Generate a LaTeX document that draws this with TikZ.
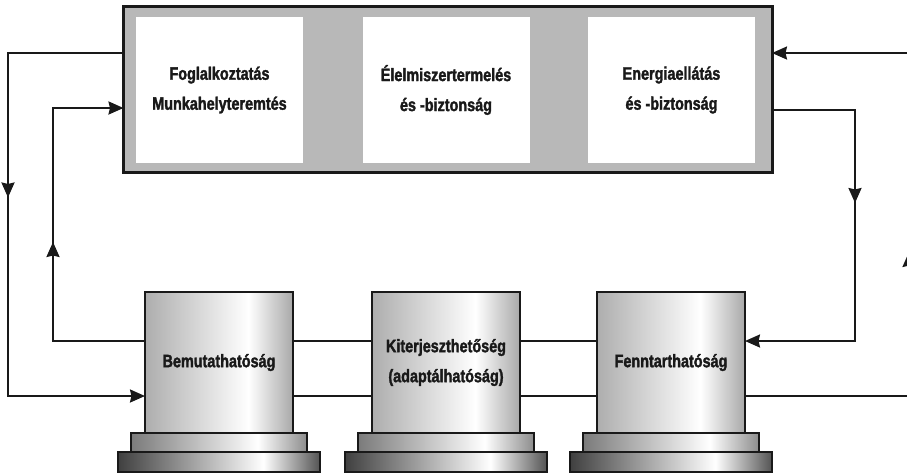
\documentclass[tikz,border=0pt]{standalone}
\usepackage{fontspec}
\newfontfamily\lbl{Liberation Sans}[FakeStretch=0.8, BoldFeatures={FakeBold=1.8}]
\usetikzlibrary{arrows.meta,decorations.markings}
\definecolor{frame}{gray}{0.72}
\definecolor{ink}{gray}{0.1}
\definecolor{colL}{gray}{0.68}
\definecolor{colR}{gray}{0.66}
\definecolor{upL}{gray}{0.48}
\definecolor{upR}{gray}{0.55}
\definecolor{loL}{gray}{0.25}
\definecolor{loR}{gray}{0.33}
\pgfdeclarehorizontalshading{colshade}{100bp}{color(0bp)=(colL); color(25bp)=(colL); color(60bp)=(white); color(75bp)=(colR); color(100bp)=(colR)}
\pgfdeclarehorizontalshading{upshade}{100bp}{color(0bp)=(upL); color(25bp)=(upL); color(61bp)=(white); color(75bp)=(upR); color(100bp)=(upR)}
\pgfdeclarehorizontalshading{loshade}{100bp}{color(0bp)=(loL); color(25bp)=(loL); color(61bp)=(white); color(75bp)=(loR); color(100bp)=(loR)}
\tikzset{
  lbltext/.style={font=\lbl\bfseries\fontsize{18}{30}\selectfont, text=ink, align=center},
  topbox/.style={draw=ink, line width=3pt, fill=frame, inner sep=0pt, outer sep=0pt},
  whitebox/.style={lbltext, fill=white, minimum width=167pt, minimum height=146pt, inner sep=0pt},
  column/.style={lbltext, draw=ink, line width=2pt, shading=colshade, minimum width=148pt, minimum height=141pt, inner sep=0pt, outer sep=0pt},
  upbase/.style={draw=ink, line width=2pt, shading=upshade, minimum width=176pt, minimum height=19pt, inner sep=0pt},
  lobase/.style={draw=ink, line width=2pt, shading=loshade, minimum width=202pt, minimum height=20pt, inner sep=0pt},
  tip/.tip={Stealth[length=15pt, width=13pt, inset=1.5pt]},
  conn/.style={draw=ink, line width=2.2pt},
  midarrow/.style={postaction={decorate}, decoration={markings, mark=at position #1 with {\arrow{tip}}}}
}
\begin{document}
\begin{tikzpicture}[x=1pt, y=-1pt]
\useasboundingbox (0,0) rectangle (907,475);
\clip (0,0) rectangle (907,475);

% top frame
\node[topbox, minimum width=648.5pt, minimum height=166pt] (top) at (447.75,89) {};
\node[whitebox] (b1) at (219.5,90) {Foglalkoztatás\\Munkahelyteremtés};
\node[whitebox] (b2) at (446,90) {Élelmiszertermelés\\és -biztonság};
\node[whitebox] (b3) at (671.5,90) {Energiaellátás\\és -biztonság};

% pillars
\foreach \n/\x in {1/219, 2/446, 3/671} {
  \node[lobase] (p\n b) at (\x,462) {};
  \node[upbase] (p\n a) at (\x,442.5) {};
}
\node[column] (p1) at (219,362.5) {Bemutathatóság};
\node[column] (p2) at (446,362.5) {Kiterjeszthetőség\\(adaptálhatóság)};
\node[column] (p3) at (671,362.5) {Fenntarthatóság};

% links between pillars
\draw[conn] (p1.east |- 0,341) -- (p2.west |- 0,341);
\draw[conn] (p1.east |- 0,396) -- (p2.west |- 0,396);
\draw[conn] (p2.east |- 0,341) -- (p3.west |- 0,341);
\draw[conn] (p2.east |- 0,396) -- (p3.west |- 0,396);

% left loops
\coordinate (lo) at (8,396);
\coordinate (li) at (53,108);
\draw[conn, -tip, midarrow=260pt] (top.west |- 0,53) -| (lo) -- (p1.west |- lo);
\draw[conn, -tip, midarrow=191pt] (p1.west |- 0,341) -| (li) -- (top.west |- li);

% right loops
\coordinate (ri) at (855,341);
\coordinate (ro) at (909,53);
\draw[conn, -tip, midarrow=176pt] (top.east |- 0,110) -| (ri) -- (p3.east |- ri);
\draw[conn, -tip, midarrow=308pt] (p3.east |- 0,396) -| (ro) -- (top.east |- ro);
\end{tikzpicture}
\end{document}
